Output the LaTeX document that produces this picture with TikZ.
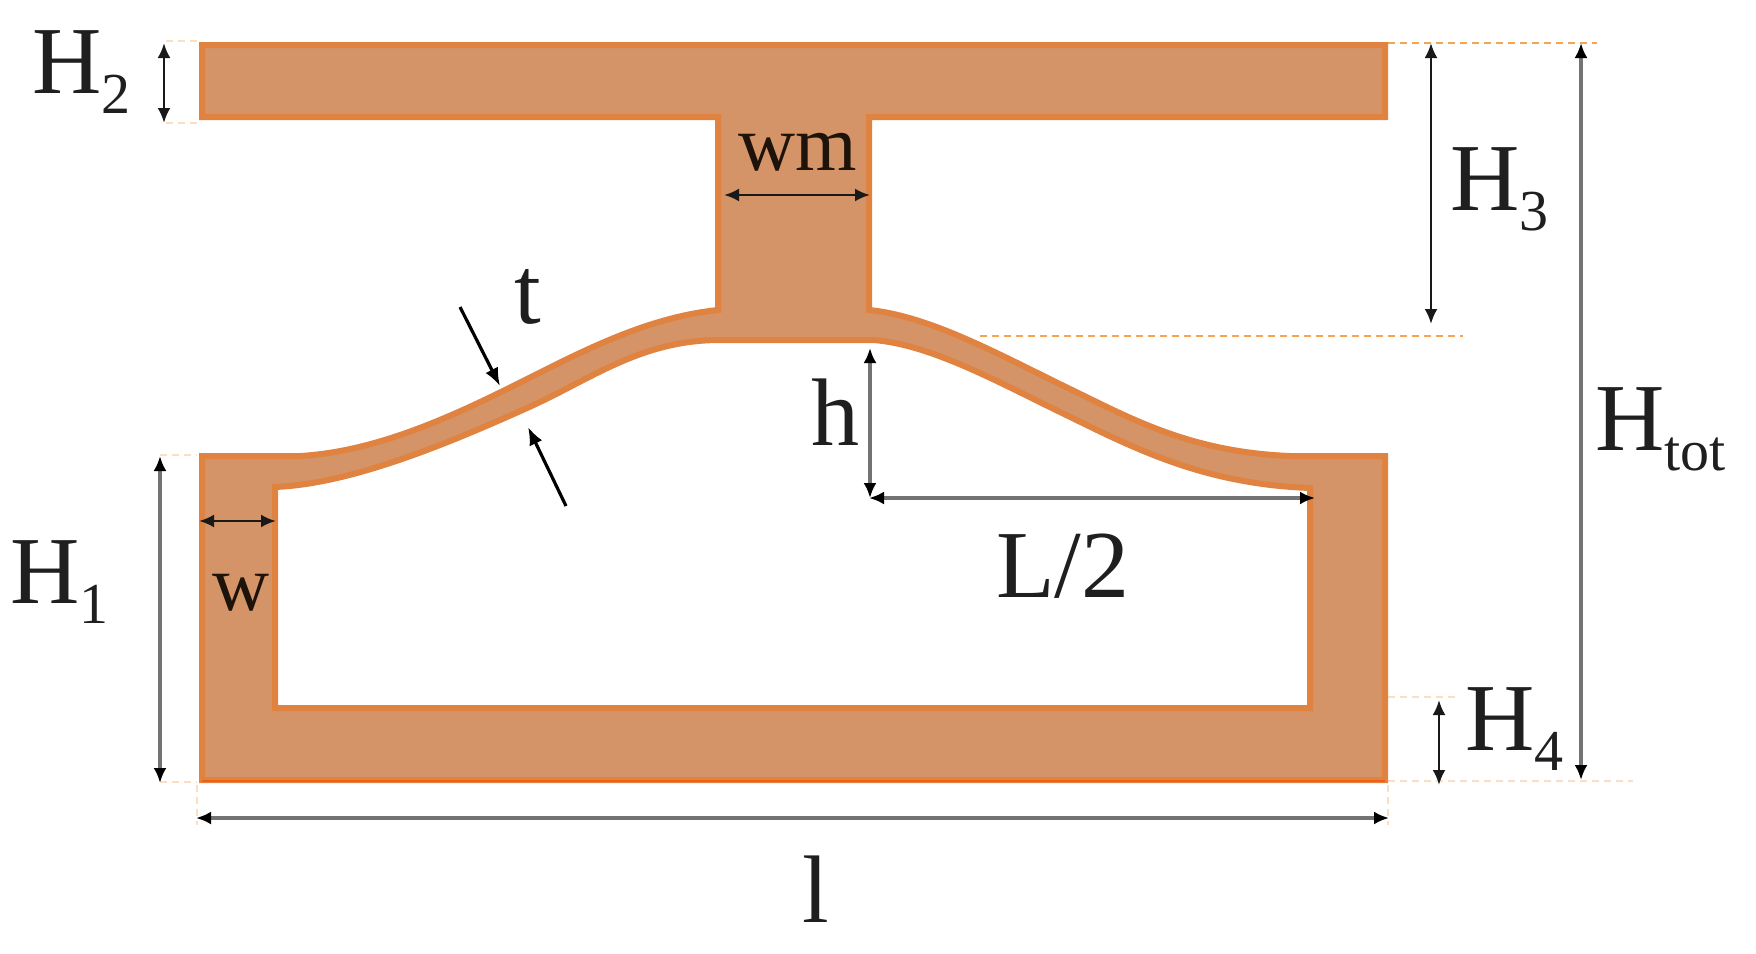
\documentclass[tikz,border=0pt]{standalone}
\usepackage{fontspec}
\setmainfont{Liberation Serif}
\usetikzlibrary{arrows.meta}
\definecolor{bodyfill}{HTML}{D49467}
\definecolor{bodyedge}{HTML}{E08240}
\definecolor{guideor}{HTML}{F5A550}
\newcommand{\subtxt}[1]{\raisebox{-20pt}{\fontsize{58}{58}\selectfont #1}}
\tikzset{
  x=1pt,y=-1pt,
  body/.style={fill=bodyfill,draw=bodyedge,line width=6pt,even odd rule,line join=miter},
  lbl/.style={anchor=base west,inner sep=0pt,outer sep=0pt,font=\fontsize{96}{96}\selectfont,text=black!88},
  smalllbl/.style={lbl,font=\fontsize{79}{79}\selectfont,text=black!85!brown},
  dimblack/.style={draw=black!90,line width=2.6pt,{Latex[length=15pt,width=13pt]}-{Latex[length=15pt,width=13pt]}},
  dimgray/.style={draw=black!55,line width=3.6pt,{Latex[length=15pt,width=13pt,black]}-{Latex[length=15pt,width=13pt,black]}},
  onearrow/.style={draw=black,line width=3.2pt,-{Latex[length=18pt,width=14pt]}},
  guide/.style={draw=guideor,line width=1.8pt,dash pattern=on 7pt off 5pt},
  faint/.style={draw=guideor!35,line width=1.8pt,dash pattern=on 7pt off 5pt},
}
\begin{document}
\begin{tikzpicture}
\useasboundingbox[fill=white] (0,0) rectangle (1756,953);
% faint and coloured guides
\coordinate (g1a) at (1388,43); \coordinate (g1b) at (1597,43);
\coordinate (g2a) at (980,336); \coordinate (g2b) at (1463,336);
\coordinate (g3a) at (1388,781); \coordinate (g3b) at (1633,781);
\coordinate (g4a) at (1388,697); \coordinate (g4b) at (1458,697);
\draw[guide] (g1a) -- (g1b);
\draw[guide] (g2a) -- (g2b);
\draw[faint] (g3a) -- (g3b);
\draw[faint] (g4a) -- (g4b);
\coordinate (f1a) at (166,41); \coordinate (f1b) at (197,41);
\coordinate (f2a) at (166,123); \coordinate (f2b) at (197,123);
\coordinate (f3a) at (160,455); \coordinate (f3b) at (197,455);
\coordinate (f4a) at (160,782); \coordinate (f4b) at (197,782);
\coordinate (f5a) at (197,785); \coordinate (f5b) at (197,825);
\coordinate (f6a) at (1388,785); \coordinate (f6b) at (1388,825);
\foreach \p in {1,...,6}{\draw[faint] (f\p a) -- (f\p b);}
% body
\path[body]
  (202,45) -- (1385,45) -- (1385,117) -- (869,117) -- (869,310)
  .. controls (930,316) and (1000,355) .. (1070,389)
  .. controls (1130,418) and (1190,452) .. (1290,456)
  -- (1385,456) -- (1385,780) -- (202,780) -- (202,456) -- (300,456)
  .. controls (370,452) and (440,422) .. (503,391)
  .. controls (570,358) and (640,318) .. (718,310)
  -- (718,117) -- (202,117) -- cycle
  (275,487)
  .. controls (350,484) and (445,445) .. (527,408)
  .. controls (590,380) and (640,340) .. (720,340)
  -- (873,340)
  .. controls (930,344) and (1000,383) .. (1060,412)
  .. controls (1130,446) and (1200,484) .. (1310,488)
  -- (1310,708) -- (275,708) -- cycle;
\coordinate (redA) at (202,781); \coordinate (redB) at (1385,781);
\draw[draw=orange!60!red,line width=2.5pt,opacity=.7] (redA) -- (redB);
% dimension ends
\coordinate (h2a) at (164,43); \coordinate (h2b) at (164,123);
\coordinate (h1a) at (160,456); \coordinate (h1b) at (160,783);
\coordinate (h3a) at (1431,43); \coordinate (h3b) at (1431,324);
\coordinate (hta) at (1581,43); \coordinate (htb) at (1581,780);
\coordinate (h4a) at (1439,700); \coordinate (h4b) at (1439,785);
\coordinate (wma) at (724,195); \coordinate (wmb) at (870,195);
\coordinate (wa) at (199,521); \coordinate (wb) at (276,521);
\coordinate (ha) at (870,348); \coordinate (hb) at (870,498);
\coordinate (la) at (869,498); \coordinate (lb) at (1315,498);
\coordinate (ba) at (196,818); \coordinate (bb) at (1389,818);
\coordinate (t1a) at (460,307); \coordinate (t1b) at (500,386);
\coordinate (t2a) at (566,506); \coordinate (t2b) at (528,427);
\draw[dimblack] (h2a) -- (h2b);
\draw[dimgray] (h1a) -- (h1b);
\draw[dimblack] (h3a) -- (h3b);
\draw[dimgray] (hta) -- (htb);
\draw[dimblack] (h4a) -- (h4b);
\draw[dimblack] (wma) -- (wmb);
\draw[dimblack] (wa) -- (wb);
\draw[dimgray] (ha) -- (hb);
\draw[dimgray] (la) -- (lb);
\draw[dimgray] (ba) -- (bb);
\draw[onearrow] (t1a) -- (t1b);
\draw[onearrow] (t2a) -- (t2b);
% labels
\node[lbl] (tH2) at (32,93) {H\subtxt{2}};
\node[lbl] (tH1) at (10,603) {H\subtxt{1}};
\node[lbl] (tH3) at (1450,210) {H\subtxt{3}};
\node[lbl] (tHt) at (1595,450) {H\subtxt{tot}};
\node[lbl] (tH4) at (1465,750) {H\subtxt{4}};
\node[lbl] (tL) at (996,597) {L/2};
\node[lbl] (tl) at (802,922) {l};
\node[lbl] (th) at (811,445) {h};
\node[lbl] (tt) at (514,323) {t};
\node[smalllbl] (twm) at (738,170) {wm};
\node[smalllbl] (tw) at (212,610) {w};
\end{tikzpicture}
\end{document}
